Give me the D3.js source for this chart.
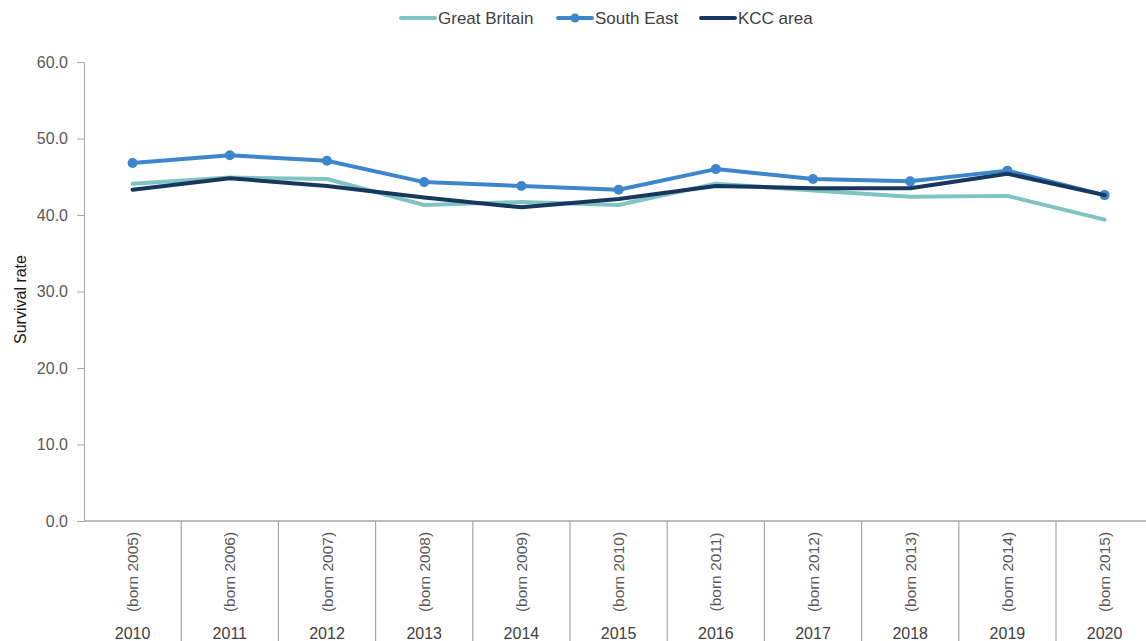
<!DOCTYPE html>
<html>
<head>
<meta charset="utf-8">
<script src="https://cdn.jsdelivr.net/npm/d3@7"></script>
<style>
  html, body { margin: 0; padding: 0; background: #fff; }
  svg { display: block; font-family: "Liberation Sans", Arial, sans-serif; }
</style>
</head>
<body>
<svg id="chart" width="1146" height="641"></svg>
<script>
// Survey years and the birth-year cohort each one follows
const years = ["2010", "2011", "2012", "2013", "2014", "2015", "2016", "2017", "2018", "2019", "2020"];
const cohorts = ["(born 2005)", "(born 2006)", "(born 2007)", "(born 2008)", "(born 2009)", "(born 2010)",
                 "(born 2011)", "(born 2012)", "(born 2013)", "(born 2014)", "(born 2015)"];

// Five-year survival rates (%)
const greatBritain = [44.1, 44.9, 44.7, 41.3, 41.7, 41.3, 44.1, 43.2, 42.4, 42.5, 39.4];
const southEast    = [46.8, 47.8, 47.1, 44.3, 43.8, 43.3, 46.0, 44.7, 44.4, 45.8, 42.6];
const kccArea      = [43.3, 44.8, 43.8, 42.3, 41.0, 42.1, 43.8, 43.5, 43.5, 45.4, 42.6];

const yTicks = [0, 10, 20, 30, 40, 50, 60];

const series = [
  { name: "Great Britain", values: greatBritain, color: "#7fc4c0", markers: false },
  { name: "South East",    values: southEast,    color: "#3e86cb", markers: true },
  { name: "KCC area",      values: kccArea,      color: "#17375e", markers: false }
];

const svg = d3.select("#chart");
const W = 1146;
const plotLeft = 84, plotTop = 62, plotBottom = 521;
const band = 97.2;

const x = d3.scaleBand().domain(years).range([plotLeft, plotLeft + band * years.length]).padding(0);
const y = d3.scaleLinear().domain([0, 60]).range([plotBottom, plotTop]);

const axisColor = "#a6a6a6";
const textColor = "#595959";

// Y axis
const yAxis = svg.append("g")
  .attr("transform", `translate(${plotLeft},0)`)
  .call(d3.axisLeft(y).tickValues(yTicks).tickSize(7).tickSizeOuter(0).tickFormat(d3.format(".1f")));
yAxis.select(".domain").attr("stroke", axisColor).attr("stroke-width", 1);
yAxis.selectAll(".tick line").attr("stroke", axisColor);
yAxis.selectAll(".tick text")
  .attr("fill", textColor).attr("font-size", 16).attr("x", -16)
  .attr("font-family", "Liberation Sans, Arial, sans-serif");

// Y axis title
svg.append("text")
  .attr("transform", `translate(26,${(plotTop + plotBottom) / 2 + 8}) rotate(-90)`)
  .attr("text-anchor", "middle")
  .attr("fill", "#1a1a1a")
  .attr("font-size", 16)
  .text("Survival rate");

// X axis baseline
svg.append("line")
  .attr("x1", plotLeft).attr("x2", W)
  .attr("y1", plotBottom).attr("y2", plotBottom)
  .attr("stroke", axisColor).attr("stroke-width", 1.5);

// Category dividers
const dividers = years.map(yr => x(yr)).concat([x(years[years.length - 1]) + x.bandwidth()]);
svg.append("g").selectAll("line")
  .data(dividers.slice(1))
  .join("line")
  .attr("x1", d => d).attr("x2", d => d)
  .attr("y1", plotBottom).attr("y2", 641)
  .attr("stroke", axisColor).attr("stroke-width", 1.2);

// Cohort labels (rotated) and year labels
const cat = svg.append("g");
cat.selectAll("text.cohort")
  .data(years)
  .join("text")
  .attr("class", "cohort")
  .attr("transform", (d, i) => `translate(${x(d) + x.bandwidth() / 2 + 5.5},572) rotate(-90)`)
  .attr("text-anchor", "middle")
  .attr("fill", textColor)
  .attr("font-size", 15.5)
  .text((d, i) => cohorts[i]);

cat.selectAll("text.year")
  .data(years)
  .join("text")
  .attr("class", "year")
  .attr("x", d => x(d) + x.bandwidth() / 2)
  .attr("y", 639)
  .attr("text-anchor", "middle")
  .attr("fill", "#404040")
  .attr("font-size", 16)
  .text(d => d);

// Lines
const cx = i => x(years[i]) + x.bandwidth() / 2;
const line = d3.line().x((d, i) => cx(i)).y(d => y(d));

series.forEach(s => {
  svg.append("path")
    .datum(s.values)
    .attr("fill", "none")
    .attr("stroke", s.color)
    .attr("stroke-width", 4)
    .attr("stroke-linejoin", "round")
    .attr("stroke-linecap", "round")
    .attr("d", line);
  if (s.markers) {
    svg.append("g").selectAll("circle")
      .data(s.values)
      .join("circle")
      .attr("cx", (d, i) => cx(i))
      .attr("cy", d => y(d))
      .attr("r", 5)
      .attr("fill", s.color);
  }
});

// Legend
const legendItems = [
  { s: series[0], x: 401 },
  { s: series[1], x: 558 },
  { s: series[2], x: 701 }
];
const lg = svg.append("g");
legendItems.forEach(it => {
  lg.append("line")
    .attr("x1", it.x).attr("x2", it.x + 34)
    .attr("y1", 18).attr("y2", 18)
    .attr("stroke", it.s.color).attr("stroke-width", 4)
    .attr("stroke-linecap", "round");
  if (it.s.markers) {
    lg.append("circle").attr("cx", it.x + 17).attr("cy", 18).attr("r", 4.5).attr("fill", it.s.color);
  }
  lg.append("text")
    .attr("x", it.x + 37).attr("y", 24)
    .attr("fill", "#404040")
    .attr("font-size", 17)
    .text(it.s.name);
});
</script>
</body>
</html>
